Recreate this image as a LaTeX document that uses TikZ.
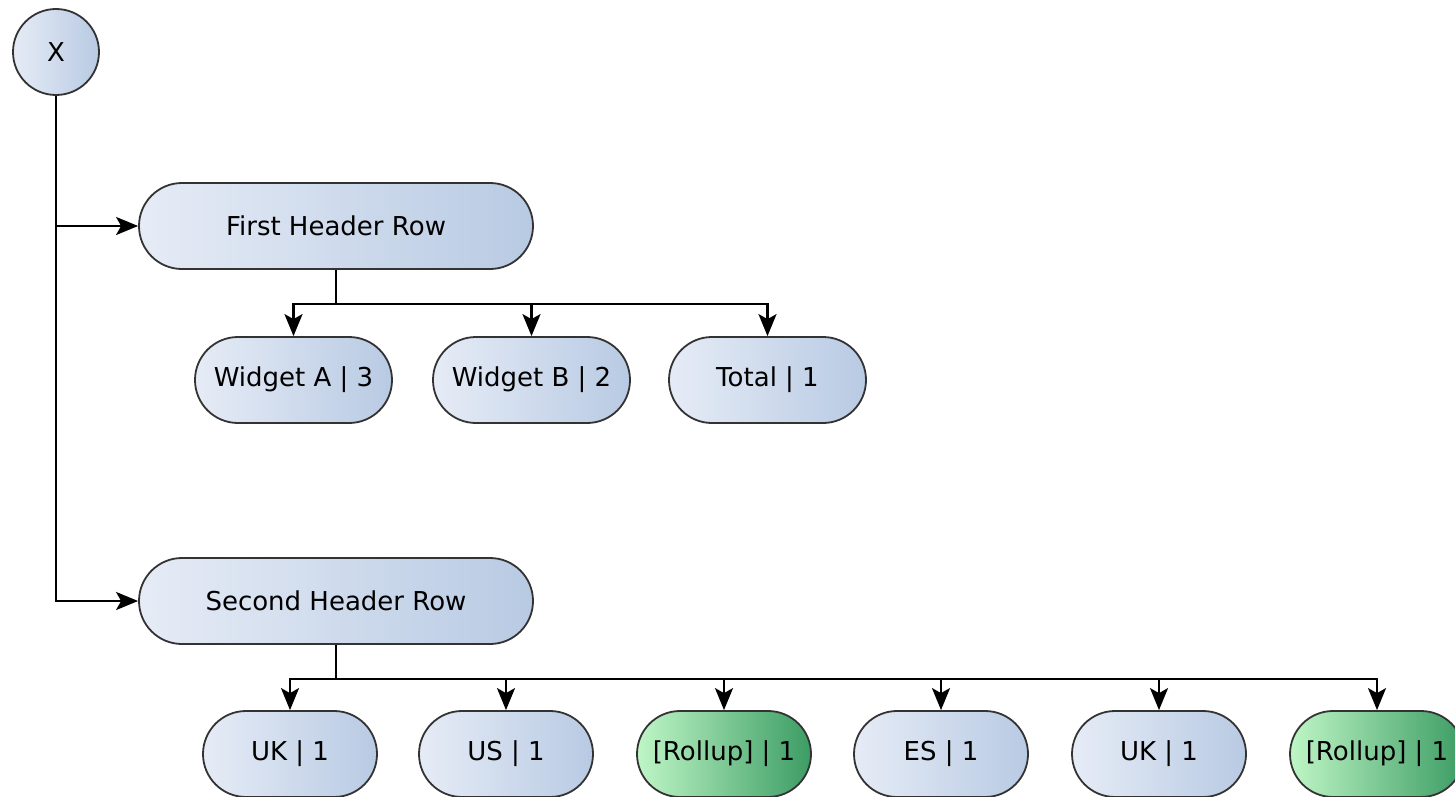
\documentclass[tikz,border=0pt]{standalone}
\usepackage{fontspec}
\setmainfont{DejaVu Sans}
\usetikzlibrary{arrows.meta}
\definecolor{bluel}{HTML}{E6ECF6}
\definecolor{bluer}{HTML}{B8CAE3}
\definecolor{greenl}{HTML}{BFF6C6}
\definecolor{greenr}{HTML}{3C9C64}
\definecolor{edge}{HTML}{333333}
\tikzset{
  base/.style={draw=edge, line width=1.8pt, inner sep=0pt, font=\fontsize{26}{30}\selectfont,
    shading=axis, shading angle=90, left color=bluel, right color=bluer},
  pill/.style={base, rectangle, rounded corners=43pt, minimum height=86pt},
  bigpill/.style={pill, minimum width=394pt},
  midpill/.style={pill, minimum width=197pt},
  smallpill/.style={pill, minimum width=174pt},
  greenpill/.style={smallpill, left color=greenl, right color=greenr},
  circ/.style={base, circle, minimum size=86pt},
  conn/.style={draw=black, line width=2.2pt},
  arr/.style={conn, -{Stealth[length=22pt, width=18pt, inset=5pt]}}
}
\begin{document}
\begin{tikzpicture}[x=1pt, y=-1pt]
\useasboundingbox (0,0) rectangle (1455,797);
\clip (0,0) rectangle (1455,797);
\node[circ] (x) at (56,52) {X};
\node[bigpill] (h1) at (336,226) {First Header Row};
\node[bigpill] (h2) at (336,601) {Second Header Row};
\node[midpill] (wa) at (293.5,380) {Widget A | 3};
\node[midpill] (wb) at (531.5,380) {Widget B | 2};
\node[midpill] (tot) at (767.5,380) {Total | 1};
\node[smallpill] (uk1) at (290,754) {UK | 1};
\node[smallpill] (us1) at (506,754) {US | 1};
\node[greenpill] (ru1) at (724,754) {[Rollup] | 1};
\node[smallpill] (es1) at (941,754) {ES | 1};
\node[smallpill] (uk2) at (1159,754) {UK | 1};
\node[greenpill] (ru2) at (1377,754) {[Rollup] | 1};
\coordinate (b1) at (336,304);
\coordinate (b2) at (336,679);
\draw[arr] (x.south) |- (h1.west);
\draw[arr] (x.south) |- (h2.west);
\draw[conn] (h1.south) -- (b1);
\draw[arr] (b1) -| (wa.north);
\draw[arr] (b1) -| (wb.north);
\draw[arr] (b1) -| (tot.north);
\draw[conn] (h2.south) -- (b2);
\draw[arr] (b2) -| (uk1.north);
\draw[arr] (b2) -| (us1.north);
\draw[arr] (b2) -| (ru1.north);
\draw[arr] (b2) -| (es1.north);
\draw[arr] (b2) -| (uk2.north);
\draw[arr] (b2) -| (ru2.north);
\end{tikzpicture}
\end{document}
